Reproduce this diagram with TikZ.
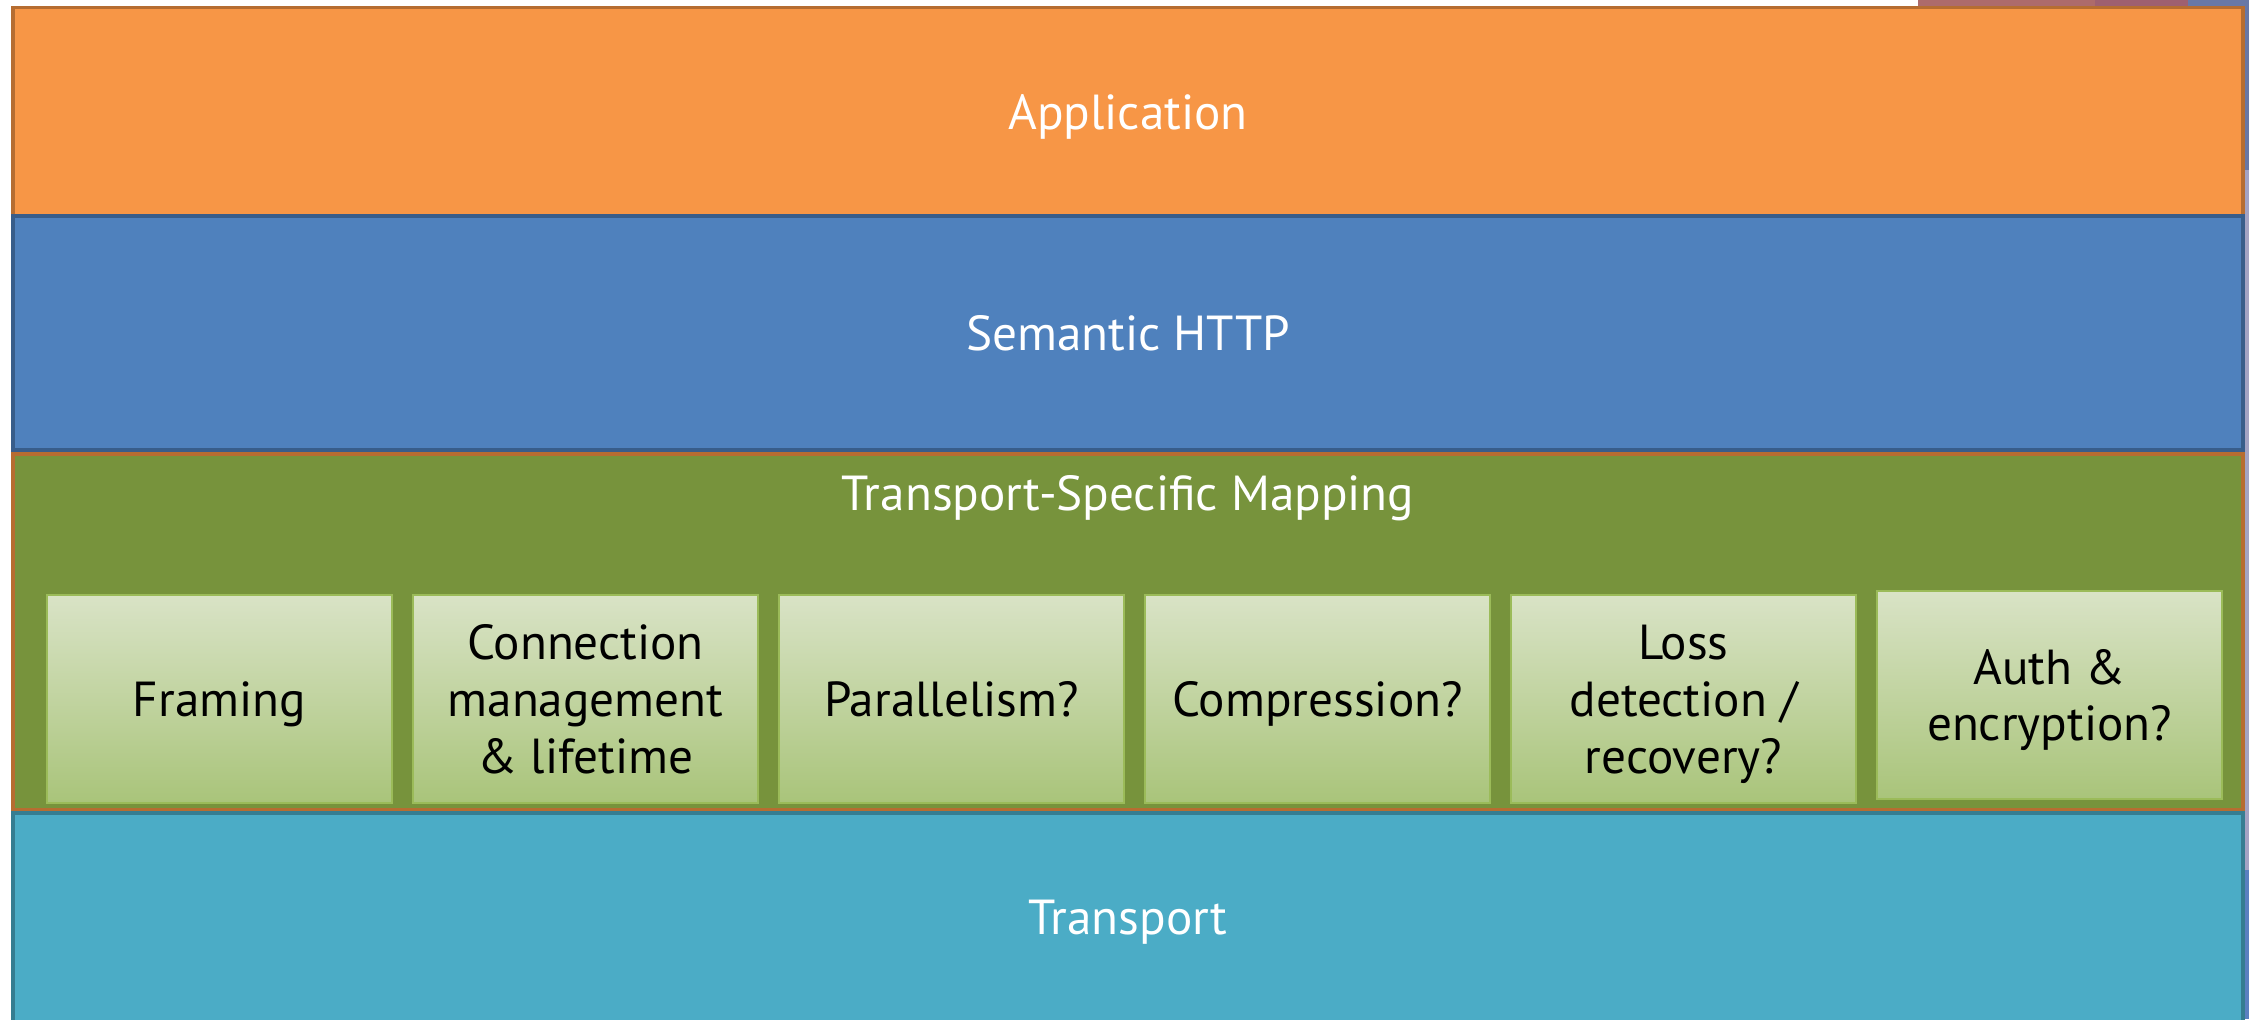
\documentclass[tikz,border=0pt]{standalone}
\usepackage{fontspec}
\setmainfont{PT Sans}
\usepackage{xcolor}
\usepackage{tikz}
\usetikzlibrary{positioning}

\definecolor{appfill}{HTML}{F79646}
\definecolor{appline}{HTML}{B66D31}
\definecolor{httpfill}{HTML}{4F81BD}
\definecolor{httpline}{HTML}{385D8A}
\definecolor{mapfill}{HTML}{77933C}
\definecolor{mapline}{HTML}{B66D31}
\definecolor{transfill}{HTML}{4BACC6}
\definecolor{transline}{HTML}{357D91}
\definecolor{featline}{HTML}{9BBB59}
\definecolor{feattop}{HTML}{D9E3C6}
\definecolor{featbot}{HTML}{A9C47A}
\definecolor{bgpink}{HTML}{AD6B6B}
\definecolor{bgrose}{HTML}{9E6070}
\definecolor{bgslate}{HTML}{6878A6}
\definecolor{bglav}{HTML}{A3A3C3}
\definecolor{bgblue}{HTML}{5B80C0}

\begin{document}
\begin{tikzpicture}[
  layer/.style={rectangle, draw, line width=1.1pt, minimum width=22.3cm, inner sep=0pt, outer sep=0pt, text=white, font=\fontsize{14}{16.2}\selectfont, text depth=0pt},
  feature/.style={rectangle, draw=featline, line width=0.8pt, top color=feattop, bottom color=featbot, minimum width=3.45cm, minimum height=2.08cm, inner sep=0pt, outer sep=0pt, align=center, font=\fontsize{14}{16.2}\selectfont, text depth=0pt},
  node distance=0.21cm
]

\useasboundingbox (0,0) rectangle (22.49,-10.19);

% Background of the slide
\fill[white] (0,0) rectangle (22.49,-10.19);
\fill[bgpink] (19.18,0) rectangle (20.95,-0.2);
\fill[bgrose] (20.95,0) rectangle (21.88,-0.2);
\fill[bgslate] (21.88,0) rectangle (22.49,-1.7);
\fill[bglav] (22.43,-1.7) rectangle (22.49,-8.7);
\fill[bgblue] (22.43,-8.7) rectangle (22.49,-10.19);

% Layers
\node[layer, fill=appfill, draw=appline, minimum height=2.085cm] (app) at (11.28,-1.1175) {Application};
\node[layer, fill=httpfill, draw=httpline, minimum height=2.34cm] (http) at (11.28,-3.33) {Semantic HTTP};
\node[layer, fill=mapfill, draw=mapline, minimum height=3.555cm] (map) at (11.28,-6.3175) {};
\node[layer, fill=transfill, draw=transline, minimum height=2.09cm] (trans) at (11.28,-9.175) {Transport};

\node[text=white, font=\fontsize{14}{16.2}\selectfont, anchor=base] (maptitle) at (11.28,-5.10) {Transport-Specific Mapping};

% Mapping functions
\node[feature] (framing) at (2.195,-6.99) {Framing};
\node[feature, right=of framing] (conn) {Connection\\management\\\& lifetime};
\node[feature, right=of conn] (par) {Parallelism?};
\node[feature, right=of par] (comp) {Compression?};
\node[feature, right=of comp] (loss) {Loss\\detection /\\recovery?};
\node[feature, right=of loss, yshift=0.04cm] (auth) {Auth \&\\encryption?};

\end{tikzpicture}
\end{document}
